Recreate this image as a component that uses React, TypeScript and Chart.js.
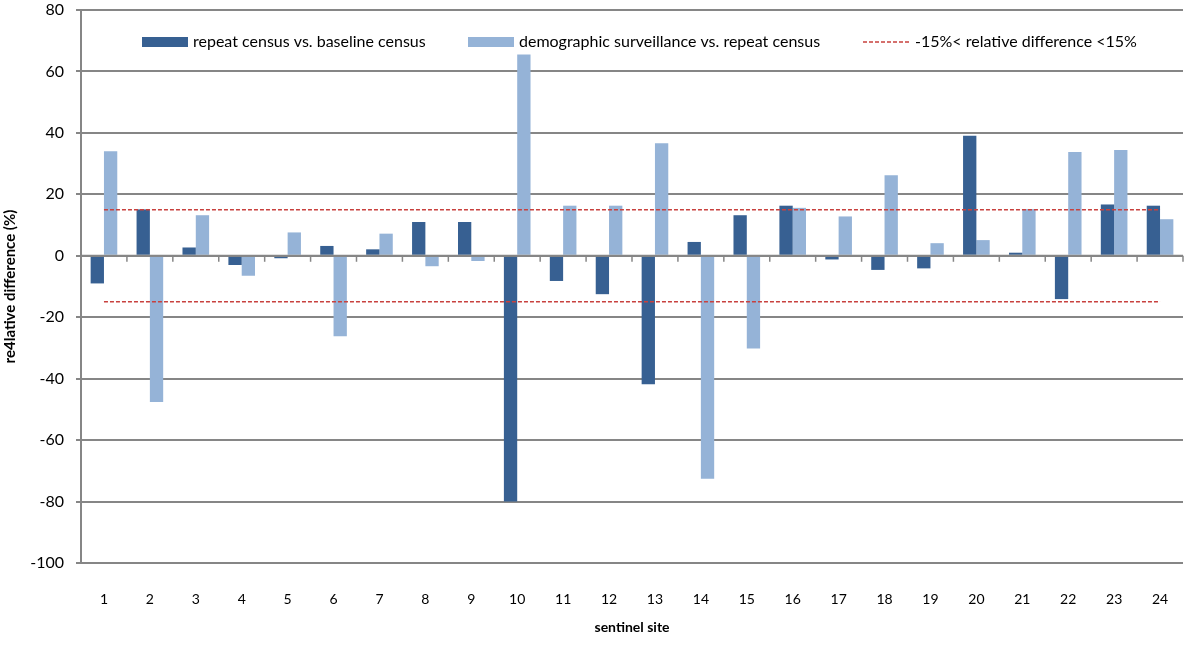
import React, { useEffect, useRef } from 'react';
import { Chart, registerables } from 'chart.js';

Chart.register(...registerables);

const sites = ['1', '2', '3', '4', '5', '6', '7', '8', '9', '10', '11', '12', '13', '14', '15', '16', '17', '18', '19', '20', '21', '22', '23', '24'];
const repeatVsBaseline = [-9.0, 15.1, 2.7, -3.0, -0.8, 3.2, 2.1, 11.0, 11.0, -80.0, -8.2, -12.5, -41.8, 4.5, 13.2, 16.3, -1.2, -4.6, -4.1, 39.1, 1.0, -14.1, 16.7, 16.3];
const survVsRepeat = [34.0, -47.6, 13.2, -6.5, 7.6, -26.2, 7.2, -3.4, -1.7, 65.5, 16.3, 16.3, 36.6, -72.6, -30.2, 15.6, 12.8, 26.2, 4.1, 5.1, 15.2, 33.8, 34.4, 11.9];
const upperBound = sites.map(() => 15);
const lowerBound = sites.map(() => -15);

const seriesLabels = [
  'repeat census vs. baseline census',
  'demographic surveillance vs. repeat census',
  '-15%< relative difference <15%',
];
const yMin = -100;
const yMax = 80;
const yStep = 20;

const FONT = 'Lato, "Open Sans", sans-serif';
const DARK = '#376092';
const LIGHT = '#95B3D7';
const RED = '#C8413E';
const GRID = '#868686';

const zeroAxisPlugin = {
  id: 'zeroAxis',
  afterDatasetsDraw(chart: any) {
    const { ctx } = chart;
    const x = chart.scales.x;
    const y = chart.scales.y;
    const y0 = y.getPixelForValue(0);
    const n = sites.length;
    const step = (x.getPixelForValue(1) - x.getPixelForValue(0));
    ctx.save();
    ctx.strokeStyle = GRID;
    ctx.lineWidth = 2;
    ctx.beginPath();
    ctx.moveTo(chart.chartArea.left, y0);
    ctx.lineTo(chart.chartArea.right, y0);
    ctx.stroke();
    ctx.lineWidth = 1.5;
    for (let i = 0; i <= n; i++) {
      const bx = x.getPixelForValue(0) - step / 2 + i * step;
      ctx.beginPath();
      ctx.moveTo(bx, y0);
      ctx.lineTo(bx, y0 + 6);
      ctx.stroke();
    }
    ctx.restore();
  },
};

const legendPlugin = {
  id: 'insideLegend',
  afterDraw(chart: any) {
    const { ctx, chartArea } = chart;
    const ds = chart.data.datasets;
    const cy = chartArea.top + 32;
    const offsets = [61, 387, 782];
    ctx.save();
    ctx.font = `16px ${FONT}`;
    ctx.textBaseline = 'middle';
    ctx.fillStyle = '#000';
    for (let i = 0; i < 3; i++) {
      const d = ds[i];
      const x0 = chartArea.left + offsets[i];
      if (i < 2) {
        ctx.fillStyle = d.backgroundColor;
        ctx.fillRect(x0, cy - 5, 46, 10);
        ctx.fillStyle = '#000';
        ctx.fillText(d.label, x0 + 51, cy);
      } else {
        ctx.strokeStyle = d.borderColor;
        ctx.lineWidth = 1.5;
        ctx.setLineDash([4, 2]);
        ctx.beginPath();
        ctx.moveTo(x0, cy);
        ctx.lineTo(x0 + 48, cy);
        ctx.stroke();
        ctx.setLineDash([]);
        ctx.fillStyle = '#000';
        ctx.fillText(d.label, x0 + 52, cy);
      }
    }
    ctx.restore();
  },
};

export default function App() {
  const ref = useRef<HTMLCanvasElement>(null);
  useEffect(() => {
    document.body.style.margin = '0';
    const chart = new Chart(ref.current!, {
      type: 'bar',
      data: {
        labels: sites,
        datasets: [
          {
            type: 'bar',
            label: seriesLabels[0],
            data: repeatVsBaseline,
            backgroundColor: DARK,
            borderWidth: 0,
            order: 1,
          },
          {
            type: 'bar',
            label: seriesLabels[1],
            data: survVsRepeat,
            backgroundColor: LIGHT,
            borderWidth: 0,
            order: 1,
          },
          {
            type: 'line',
            label: seriesLabels[2],
            data: upperBound,
            borderColor: RED,
            borderWidth: 1.5,
            borderDash: [4, 2],
            pointRadius: 0,
            fill: false,
            order: 0,
          },
          {
            type: 'line',
            label: seriesLabels[2] + ' (lower)',
            data: lowerBound,
            borderColor: RED,
            borderWidth: 1.5,
            borderDash: [4, 2],
            pointRadius: 0,
            fill: false,
            order: 0,
          },
        ] as any,
      },
      options: {
        animation: false,
        responsive: true,
        maintainAspectRatio: false,
        datasets: {
          bar: { categoryPercentage: 0.58, barPercentage: 1.0 },
        },
        layout: { padding: { left: 0, right: 17, top: 0, bottom: 0 } },
        plugins: {
          legend: { display: false },
          tooltip: { enabled: false },
        },
        scales: {
          x: {
            offset: true,
            grid: { display: false },
            border: { display: false },
            ticks: {
              color: '#000',
              font: { family: FONT, size: 14 },
              padding: 20,
              maxRotation: 0,
            },
            title: {
              display: true,
              text: 'sentinel site',
              color: '#000',
              font: { family: FONT, size: 14, weight: 'bold' },
              padding: { top: 0, bottom: 10 },
            },
            afterFit(scale: any) {
              scale.height = 83;
              scale.paddingLeft = 0;
              scale.paddingRight = 0;
            },
          },
          y: {
            min: yMin,
            max: yMax,
            ticks: {
              stepSize: yStep,
              color: '#000',
              font: { family: FONT, size: 16 },
              padding: 12,
            },
            grid: {
              color: GRID,
              lineWidth: 2,
              drawTicks: true,
              tickLength: 5,
            },
            border: { display: true, color: GRID, width: 2 },
            title: {
              display: true,
              text: 're4lative difference (%)',
              color: '#000',
              font: { family: FONT, size: 15, weight: 'bold' },
              padding: { top: 1, bottom: 0 },
            },
            afterFit(scale: any) {
              scale.width = 81;
              scale.paddingTop = 10;
              scale.paddingBottom = 0;
            },
          },
        },
      },
      plugins: [zeroAxisPlugin, legendPlugin],
    });
    return () => chart.destroy();
  }, []);
  return (
    <div style={{ width: 1200, height: 646, position: 'relative' }}>
      <canvas ref={ref} />
    </div>
  );
}
